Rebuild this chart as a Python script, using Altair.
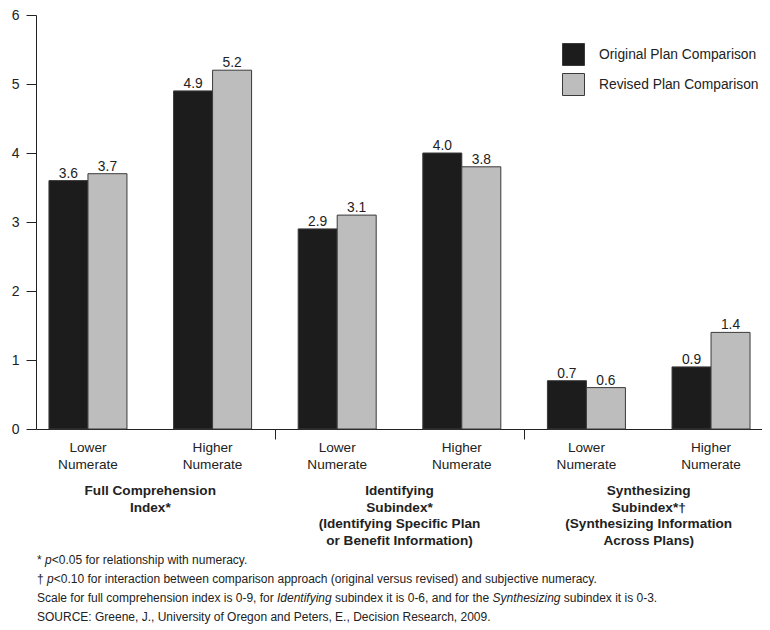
import altair as alt
import pandas as pd

# ---- data ----
groups = [
    "Full Comprehension\nIndex*",
    "Identifying\nSubindex*\n(Identifying Specific Plan\nor Benefit Information)",
    "Synthesizing\nSubindex*†\n(Synthesizing Information\nAcross Plans)",
]
levels = ["Lower\nNumerate", "Higher\nNumerate"]
series = ["Original Plan Comparison", "Revised Plan Comparison"]
original = [3.6, 4.9, 2.9, 4.0, 0.7, 0.9]
revised = [3.7, 5.2, 3.1, 3.8, 0.6, 1.4]
y_ticks = [0, 1, 2, 3, 4, 5, 6]

# ---- tables built from the arrays ----
BAR_W = 0.313
rows = []
for k in range(len(original)):
    c = k + 0.5
    rows.append({"series": series[0], "val": original[k], "pos": c - BAR_W, "pos2": c, "mid": c - BAR_W / 2})
    rows.append({"series": series[1], "val": revised[k], "pos": c, "pos2": c + BAR_W, "mid": c + BAR_W / 2})
bars_df = pd.DataFrame(rows)
sub_df = pd.DataFrame({"pos": [k + 0.5 for k in range(6)], "label": [levels[k % 2] for k in range(6)]})
grp_df = pd.DataFrame({"pos": [2 * g + 1 for g in range(3)], "label": groups})

X_MIN, X_MAX = 0.083, 5.909
xscale = alt.Scale(domain=[X_MIN, X_MAX], nice=False, zero=False)
xaxis = alt.Axis(values=[2, 4, X_MAX], labels=False, title=None, grid=False, tickSize=10,
                 domainColor="#222", tickColor="#222", domainWidth=1, tickWidth=1)
yscale = alt.Scale(domain=[0, 6], nice=False)
yaxis = alt.Axis(values=y_ticks, title=None, grid=False, tickSize=10, labelPadding=7,
                 labelFontSize=14, labelColor="#222", domainColor="#222", tickColor="#222",
                 format="d")

FONT = "Liberation Sans"

bars = alt.Chart(bars_df).mark_bar(stroke="#3a3a3a", strokeWidth=1, opacity=1).encode(
    x=alt.X("pos:Q", scale=xscale, axis=xaxis),
    x2="pos2:Q",
    y=alt.Y("val:Q", scale=yscale, axis=yaxis),
    y2=alt.datum(0),
    color=alt.Color(
        "series:N",
        scale=alt.Scale(domain=series, range=["#1c1c1c", "#bdbdbd"]),
        legend=alt.Legend(
            title=None, orient="none", legendX=526, legendY=28, symbolType="square",
            symbolSize=484, symbolStrokeColor="#3a3a3a", symbolStrokeWidth=1,
            symbolOpacity=1, labelFontSize=13.8, labelColor="#222", labelOffset=14,
            rowPadding=3, padding=0, labelFont=FONT,
        ),
    ),
)

values = alt.Chart(bars_df).mark_text(
    fontSize=13.8, dy=-3, baseline="alphabetic", color="#222", font=FONT
).encode(
    x=alt.X("mid:Q", scale=xscale, axis=xaxis),
    y=alt.Y("val:Q", scale=yscale, axis=yaxis),
    text=alt.Text("val:Q", format=".1f"),
)

subs = alt.Chart(sub_df).mark_text(
    fontSize=13.6, lineBreak="\n", lineHeight=16.5, baseline="alphabetic", color="#222", font=FONT
).encode(
    x=alt.X("pos:Q", scale=xscale, axis=xaxis),
    y=alt.value(437),
    text="label:N",
)

titles = alt.Chart(grp_df).mark_text(
    fontSize=13.6, fontWeight="bold", lineBreak="\n", lineHeight=16.5, baseline="alphabetic",
    color="#222", font=FONT
).encode(
    x=alt.X("pos:Q", scale=xscale, axis=xaxis),
    y=alt.value(480),
    text="label:N",
)

def note(text, x, y, italic=False):
    kw = dict(text=text, align="left", baseline="alphabetic", fontSize=12, color="#222", font=FONT)
    if italic:
        kw["fontStyle"] = "italic"
    return alt.Chart(pd.DataFrame({"d": [0]})).mark_text(**kw).encode(x=alt.value(x), y=alt.value(y))

L0 = 1
notes = [
    note("*", L0, 549), note("p", L0 + 8, 549, True),
    note("<0.05 for relationship with numeracy.", L0 + 14.7, 549),
    note("†", L0, 568), note("p", L0 + 10, 568, True),
    note("<0.10 for interaction between comparison approach (original versus revised) and subjective numeracy.", L0 + 16.7, 568),
    note("Scale for full comprehension index is 0-9, for", L0, 587),
    note("Identifying", L0 + 240, 587, True),
    note("subindex it is 0-6, and for the", L0 + 298, 587),
    note("Synthesizing", L0 + 455.5, 587, True),
    note("subindex it is 0-3.", L0 + 526.8, 587),
    note("SOURCE: Greene, J., University of Oregon and Peters, E., Decision Research, 2009.", L0, 606),
]

chart = alt.layer(bars, values, subs, titles, *notes).properties(
    width=726, height=414,
    autosize=alt.AutoSizeParams(type="none"),
    padding={"left": 28, "top": 7, "right": 0, "bottom": 195},
).configure(font=FONT).configure_view(stroke=None)

chart.save("out.html", embed_options={"renderer": "svg", "actions": False})
